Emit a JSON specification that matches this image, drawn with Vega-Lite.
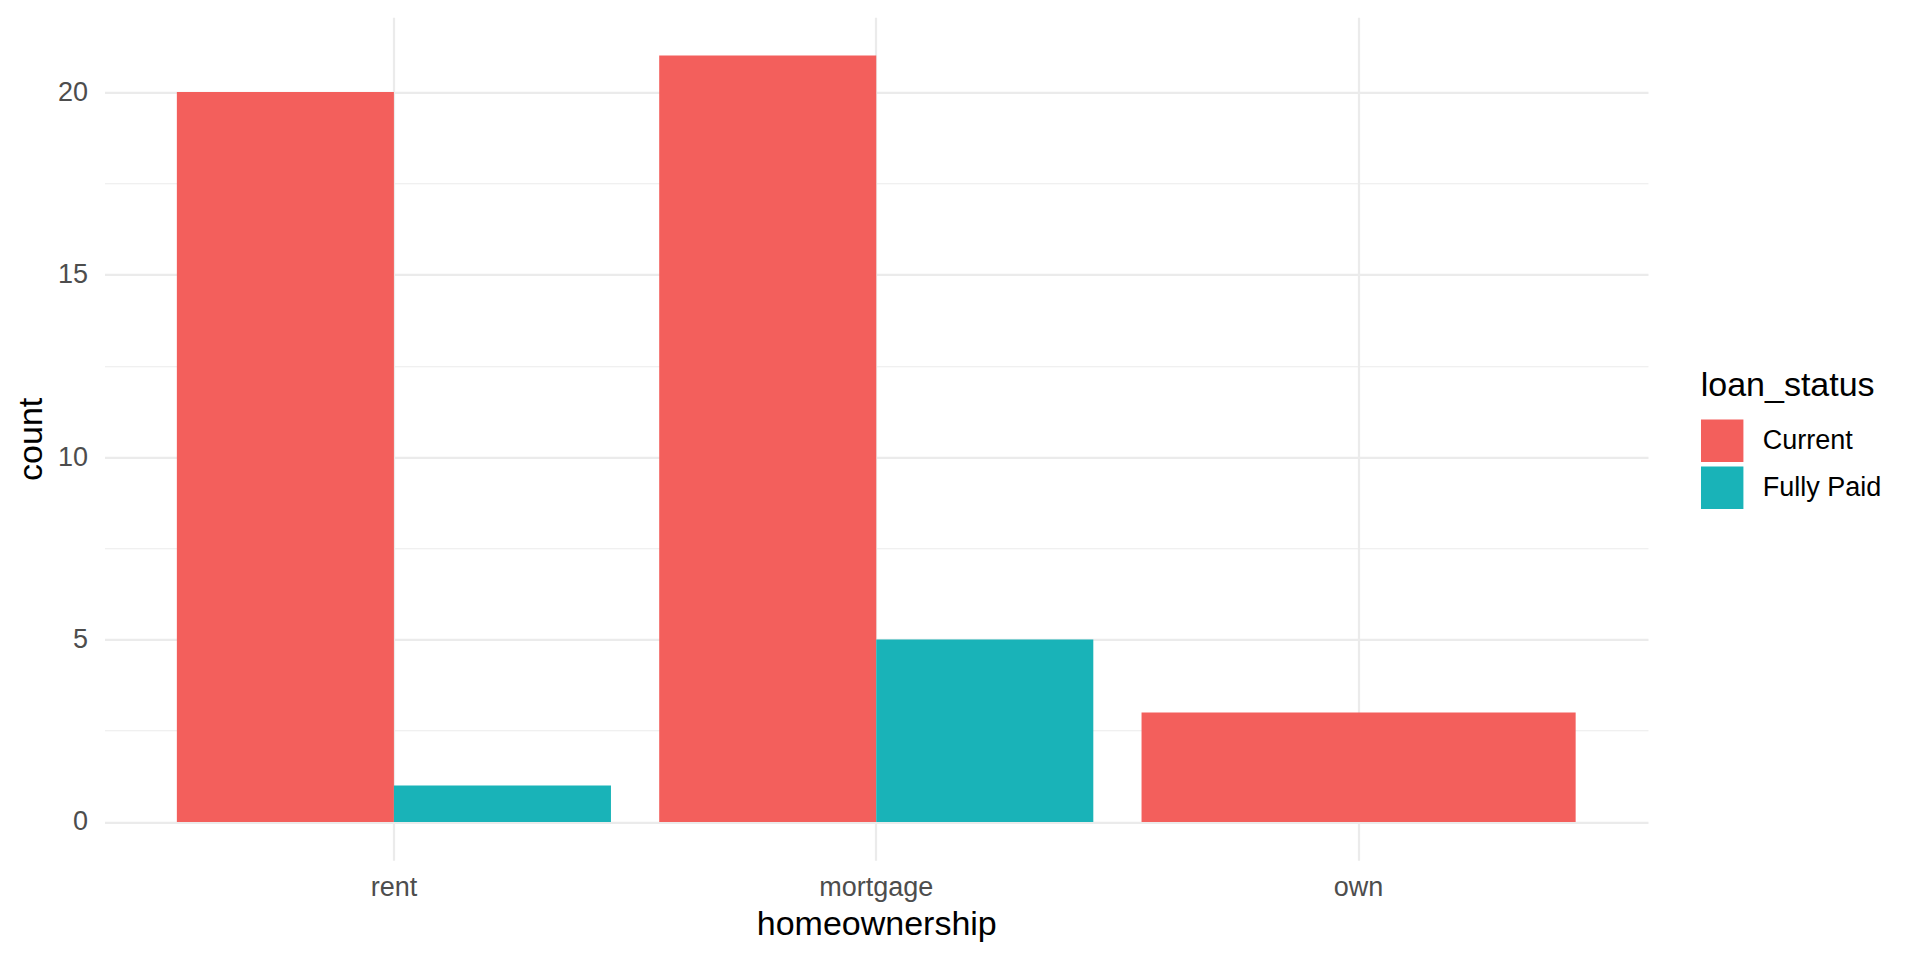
{
  "$schema": "https://vega.github.io/schema/vega-lite/v6.json",
  "width": 1543.5,
  "height": 843,
  "autosize": {"type": "none"},
  "padding": {"left": 104.5, "top": 17.3, "right": 272, "bottom": 99.7},
  "background": "white",
  "config": {"font": "Liberation Sans", "view": {"stroke": null}},
  "data": {
    "values": [
      {"homeownership": "rent", "loan_status": "Current", "count": 20},
      {"homeownership": "rent", "loan_status": "Fully Paid", "count": 1},
      {"homeownership": "mortgage", "loan_status": "Current", "count": 21},
      {"homeownership": "mortgage", "loan_status": "Fully Paid", "count": 5},
      {"homeownership": "own", "loan_status": "Current", "count": 3}
    ]
  },
  "encoding": {
    "x": {
      "field": "homeownership",
      "type": "nominal",
      "sort": ["rent", "mortgage", "own"],
      "scale": {"paddingInner": 0.1, "paddingOuter": 0.15},
      "axis": {
        "title": "homeownership",
        "grid": true,
        "gridColor": "#EBEBEB",
        "gridWidth": 2.2,
        "domain": false,
        "ticks": false,
        "tickSize": 0,
        "labelAngle": 0,
        "labelFont": "Liberation Sans",
        "labelFontSize": 27,
        "labelColor": "#4D4D4D",
        "labelPadding": 14,
        "titleFont": "Liberation Sans",
        "titleFontSize": 34,
        "titleFontWeight": "normal",
        "titleColor": "#000000",
        "titleBaseline": "alphabetic",
        "titleY": 74,
        "titleX": 771.75
      }
    },
    "y": {
      "field": "count",
      "type": "quantitative",
      "scale": {"domain": [-1.05, 22.05], "nice": false, "zero": false},
      "axis": {
        "title": "count",
        "values": [0, 2.5, 5, 7.5, 10, 12.5, 15, 17.5, 20],
        "labelExpr": "datum.value % 5 === 0 ? datum.label : ''",
        "grid": true,
        "gridColor": "#EBEBEB",
        "gridWidth": {"condition": {"test": "datum.value % 5 === 0", "value": 2.2}, "value": 1.1},
        "domain": false,
        "ticks": false,
        "tickSize": 0,
        "labelFont": "Liberation Sans",
        "labelFontSize": 27,
        "labelColor": "#4D4D4D",
        "labelPadding": 17,
        "titleFont": "Liberation Sans",
        "titleFontSize": 34,
        "titleFontWeight": "normal",
        "titleColor": "#000000",
        "titleBaseline": "alphabetic",
        "titleAlign": "center",
        "titleAngle": -90,
        "titleX": -62.8,
        "titleY": 421.5
      }
    },
    "y2": {"datum": 0},
    "color": {
      "field": "loan_status",
      "type": "nominal",
      "scale": {"domain": ["Current", "Fully Paid"], "range": ["#F35F5C", "#19B3B8"]},
      "legend": {
        "title": "loan_status",
        "orient": "none",
        "legendX": 1596.2,
        "legendY": 352,
        "titleFont": "Liberation Sans",
        "titleFontSize": 34,
        "titleFontWeight": "normal",
        "titleColor": "#000000",
        "titlePadding": 16,
        "labelFont": "Liberation Sans",
        "labelFontSize": 27,
        "labelColor": "#000000",
        "labelOffset": 19,
        "symbolType": "square",
        "symbolSize": 1800,
        "symbolStrokeWidth": 0,
        "symbolOpacity": 1,
        "rowPadding": 4
      }
    }
  },
  "layer": [
    {
      "transform": [{"filter": "datum.homeownership !== 'own'"}],
      "mark": {"type": "bar"},
      "encoding": {
        "xOffset": {
          "field": "loan_status",
          "type": "nominal",
          "scale": {"domain": ["Current", "Fully Paid"], "paddingInner": 0, "paddingOuter": 0}
        }
      }
    },
    {
      "transform": [{"filter": "datum.homeownership === 'own'"}],
      "mark": {"type": "bar"}
    }
  ]
}
